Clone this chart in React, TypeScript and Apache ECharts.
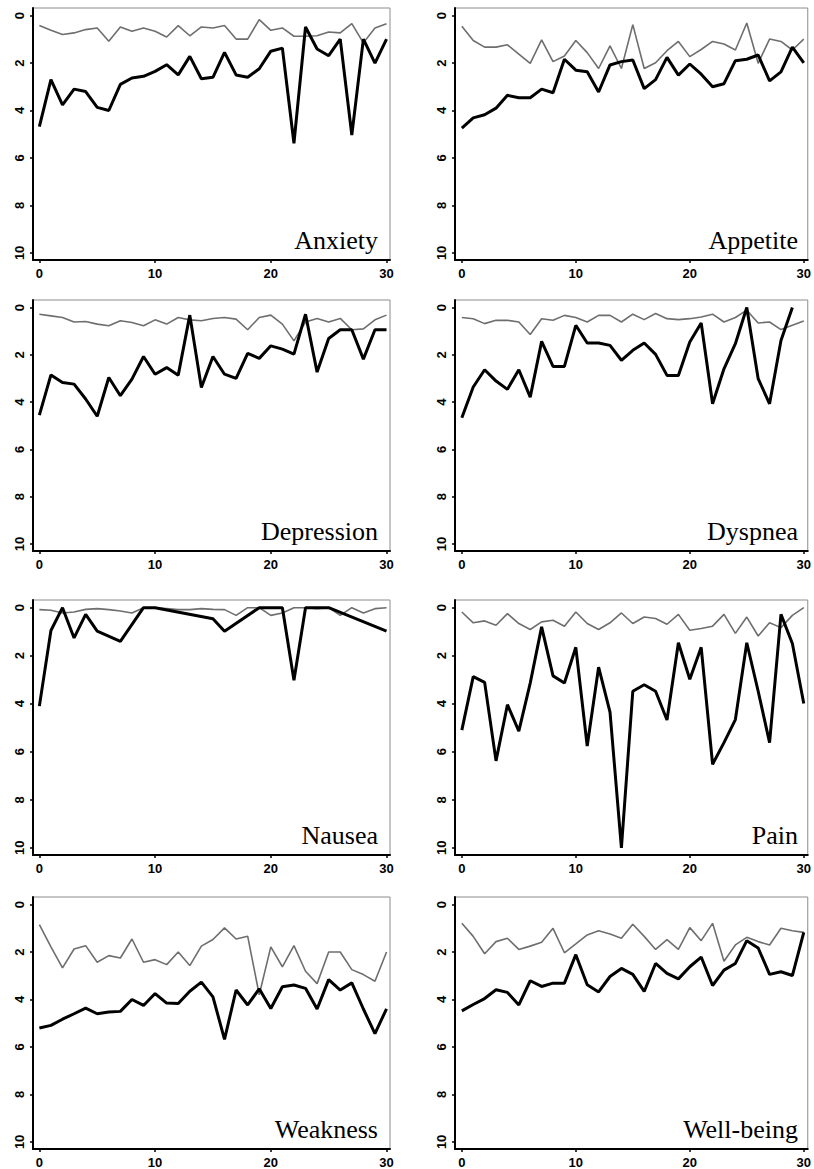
import React, { useEffect, useRef } from "react";
import * as echarts from "echarts";

const days = [0, 1, 2, 3, 4, 5, 6, 7, 8, 9, 10, 11, 12, 13, 14, 15, 16, 17, 18, 19, 20, 21, 22, 23, 24, 25, 26, 27, 28, 29, 30];
const xTicks = [0, 10, 20, 30];
const yTicks = [0, 2, 4, 6, 8, 10];

const anxietyGrey = [0.42, 0.62, 0.8, 0.73, 0.59, 0.52, 1.08, 0.48, 0.66, 0.52, 0.66, 0.9, 0.42, 0.85, 0.48, 0.52, 0.42, 0.99, 0.99, 0.17, 0.62, 0.52, 0.87, 0.87, 0.85, 0.69, 0.73, 0.34, 1.15, 0.52, 0.34];
const anxietyBlack = [4.68, 2.7, 3.76, 3.1, 3.2, 3.87, 4.0, 2.9, 2.63, 2.56, 2.35, 2.07, 2.5, 1.72, 2.66, 2.6, 1.55, 2.5, 2.6, 2.24, 1.5, 1.37, 5.38, 0.48, 1.41, 1.69, 0.99, 5.03, 0.99, 2.0, 0.99];

const appetiteGrey = [0.45, 1.05, 1.33, 1.33, 1.23, 1.62, 2.01, 1.02, 1.94, 1.7, 1.05, 1.56, 2.23, 1.28, 2.23, 0.38, 2.23, 1.99, 1.48, 1.09, 1.73, 1.43, 1.09, 1.2, 1.45, 0.31, 2.01, 0.99, 1.09, 1.45, 0.99];
const appetiteBlack = [4.74, 4.31, 4.18, 3.9, 3.36, 3.46, 3.46, 3.1, 3.25, 1.84, 2.3, 2.37, 3.22, 2.08, 1.94, 1.87, 3.08, 2.7, 1.76, 2.51, 2.04, 2.47, 3.0, 2.87, 1.9, 1.84, 1.66, 2.75, 2.37, 1.33, 1.99];

const depressionGrey = [0.28, 0.35, 0.42, 0.61, 0.59, 0.7, 0.77, 0.56, 0.63, 0.77, 0.52, 0.7, 0.42, 0.52, 0.56, 0.46, 0.42, 0.49, 0.94, 0.42, 0.32, 0.7, 1.41, 0.61, 0.46, 0.61, 0.46, 0.94, 0.9, 0.52, 0.32];
const depressionBlack = [4.55, 2.85, 3.17, 3.24, 3.87, 4.6, 2.96, 3.73, 3.03, 2.07, 2.82, 2.54, 2.86, 0.32, 3.38, 2.07, 2.82, 3.0, 1.94, 2.15, 1.62, 1.76, 1.97, 0.28, 2.73, 1.31, 0.94, 0.94, 2.18, 0.94, 0.94];

const dyspneaGrey = [0.42, 0.47, 0.68, 0.54, 0.54, 0.61, 1.14, 0.47, 0.54, 0.33, 0.42, 0.61, 0.33, 0.33, 0.61, 0.28, 0.51, 0.25, 0.47, 0.51, 0.47, 0.4, 0.28, 0.61, 0.42, 0.11, 0.65, 0.61, 0.93, 0.75, 0.57];
const dyspneaBlackDays = [0, 1, 2, 3, 4, 5, 6, 7, 8, 9, 10, 11, 12, 13, 14, 15, 16, 17, 18, 19, 20, 21, 22, 23, 24, 25, 26, 27, 28, 29];
const dyspneaBlack = [4.66, 3.36, 2.63, 3.11, 3.46, 2.63, 3.79, 1.43, 2.49, 2.49, 0.75, 1.5, 1.5, 1.6, 2.23, 1.81, 1.5, 1.98, 2.87, 2.87, 1.46, 0.65, 4.07, 2.59, 1.53, 0.0, 3.01, 4.07, 1.39, 0.0];

const nauseaGrey = [0.08, 0.11, 0.22, 0.18, 0.07, 0.04, 0.08, 0.14, 0.22, 0.0, 0.0, 0.04, 0.08, 0.08, 0.04, 0.07, 0.08, 0.32, 0.0, 0.0, 0.32, 0.22, 0.0, 0.0, 0.04, 0.0, 0.32, 0.0, 0.22, 0.04, 0.0];
const nauseaBlackDays = [0, 1, 2, 3, 4, 5, 7, 9, 10, 15, 16, 19, 20, 21, 22, 23, 24, 25, 30];
const nauseaBlack = [4.1, 0.95, 0.0, 1.26, 0.28, 0.98, 1.4, 0.0, 0.0, 0.46, 0.98, 0.0, 0.0, 0.0, 3.02, 0.0, 0.0, 0.0, 0.98];

const painGrey = [0.18, 0.63, 0.55, 0.73, 0.25, 0.66, 0.91, 0.59, 0.52, 0.77, 0.18, 0.66, 0.91, 0.63, 0.22, 0.66, 0.39, 0.45, 0.69, 0.28, 0.94, 0.87, 0.77, 0.28, 1.07, 0.39, 1.18, 0.63, 0.83, 0.32, 0.0];
const painBlack = [5.1, 2.87, 3.11, 6.38, 4.04, 5.14, 3.14, 0.8, 2.84, 3.14, 1.65, 5.76, 2.48, 4.35, 10.0, 3.48, 3.21, 3.48, 4.68, 1.46, 2.98, 1.65, 6.52, 5.62, 4.66, 1.46, 3.48, 5.62, 0.28, 1.49, 3.99];

const weaknessGrey = [0.84, 1.78, 2.67, 1.87, 1.73, 2.43, 2.15, 2.25, 1.45, 2.43, 2.32, 2.53, 2.0, 2.57, 1.75, 1.47, 0.98, 1.45, 1.33, 3.8, 1.78, 2.62, 1.73, 2.81, 3.33, 2.0, 2.0, 2.74, 2.95, 3.23, 2.0];
const weaknessBlack = [5.2, 5.09, 4.83, 4.6, 4.36, 4.6, 4.53, 4.5, 4.0, 4.25, 3.75, 4.15, 4.17, 3.65, 3.27, 3.89, 5.68, 3.6, 4.23, 3.55, 4.38, 3.46, 3.39, 3.53, 4.4, 3.16, 3.6, 3.3, 4.4, 5.44, 4.39];

const wellbeingGrey = [0.79, 1.34, 2.07, 1.56, 1.42, 1.89, 1.75, 1.59, 1.0, 2.03, 1.66, 1.28, 1.1, 1.24, 1.42, 0.83, 1.34, 1.89, 1.48, 1.89, 0.97, 1.52, 0.79, 2.39, 1.7, 1.38, 1.56, 1.7, 1.0, 1.1, 1.17];
const wellbeingBlack = [4.48, 4.21, 3.96, 3.59, 3.7, 4.23, 3.21, 3.45, 3.31, 3.31, 2.11, 3.38, 3.68, 3.03, 2.69, 2.94, 3.66, 2.48, 2.9, 3.13, 2.62, 2.21, 3.41, 2.76, 2.48, 1.52, 1.83, 2.94, 2.83, 2.99, 1.17];

const panelNames = ["Anxiety", "Appetite", "Depression", "Dyspnea", "Nausea", "Pain", "Weakness", "Well-being"];
const greySeries = [anxietyGrey, appetiteGrey, depressionGrey, dyspneaGrey, nauseaGrey, painGrey, weaknessGrey, wellbeingGrey];
const blackSeries = [anxietyBlack, appetiteBlack, depressionBlack, dyspneaBlack, nauseaBlack, painBlack, weaknessBlack, wellbeingBlack];
const blackDays = [days, days, days, dyspneaBlackDays, nauseaBlackDays, days, days, days];

const colLeft = [33, 455];
const colWidth = [357, 355];
const colXMin = [-0.55, -0.6];
const colXMax = [30.3, 30.35];
const rowTop = [8, 300, 600, 897];
const rowHeight = [252, 251, 255, 252];

const pair = (xs: number[], ys: number[]) => ys.map((y, i) => [xs[i], y]);

export default function App() {
  const ref = useRef<HTMLDivElement>(null);
  useEffect(() => {
    document.body.style.margin = "0";
    if (!ref.current) return;
    const chart = echarts.init(ref.current, undefined, { renderer: "svg" });
    const grids: any[] = [];
    const xAxes: any[] = [];
    const yAxes: any[] = [];
    const series: any[] = [];
    const graphics: any[] = [];
    const tickLabel = {
      fontFamily: '"Liberation Sans", Arial, sans-serif',
      fontWeight: "bold",
      fontSize: 13,
      color: "#000",
    };
    panelNames.forEach((name, i) => {
      const col = i % 2;
      const row = Math.floor(i / 2);
      const left = colLeft[col];
      const top = rowTop[row];
      const width = colWidth[col];
      const height = rowHeight[row];
      grids.push({
        left,
        top,
        width,
        height,
        show: true,
        borderColor: "#8c8c8c",
        borderWidth: 1,
        backgroundColor: "transparent",
      });
      xAxes.push({
        type: "value",
        gridIndex: i,
        min: colXMin[col],
        max: colXMax[col],
        axisLine: { show: true, onZero: false, lineStyle: { color: "#000", width: 2 } },
        axisTick: { show: true, length: 3, customValues: xTicks, lineStyle: { color: "#000", width: 1.5 } },
        axisLabel: { ...tickLabel, margin: 7, customValues: xTicks },
        splitLine: { show: false },
      });
      yAxes.push({
        type: "value",
        gridIndex: i,
        inverse: true,
        min: -0.32,
        max: 10.3,
        axisLine: { show: true, onZero: false, lineStyle: { color: "#000", width: 2 } },
        axisTick: { show: true, length: 3, customValues: yTicks, lineStyle: { color: "#000", width: 1.5 } },
        axisLabel: { ...tickLabel, margin: 7, rotate: 90, customValues: yTicks },
        splitLine: { show: false },
      });
      series.push({
        type: "line",
        xAxisIndex: i,
        yAxisIndex: i,
        data: pair(days, greySeries[i]),
        showSymbol: false,
        symbol: "none",
        lineStyle: { color: "#6e6e6e", width: 1.6 },
        z: 2,
      });
      series.push({
        type: "line",
        xAxisIndex: i,
        yAxisIndex: i,
        data: pair(blackDays[i], blackSeries[i]),
        showSymbol: false,
        symbol: "none",
        lineStyle: { color: "#000", width: 3 },
        z: 3,
      });
      graphics.push({
        type: "text",
        x: left + width - 12,
        y: top + height - 7,
        style: {
          text: name,
          font: '26px "Liberation Serif", "Times New Roman", serif',
          fill: "#000",
          align: "right",
          verticalAlign: "bottom",
        },
      });
    });
    chart.setOption({
      animation: false,
      backgroundColor: "#fff",
      grid: grids,
      xAxis: xAxes,
      yAxis: yAxes,
      series,
      graphic: graphics,
    });
    return () => chart.dispose();
  }, []);
  return <div ref={ref} style={{ width: 814, height: 1169 }} />;
}
